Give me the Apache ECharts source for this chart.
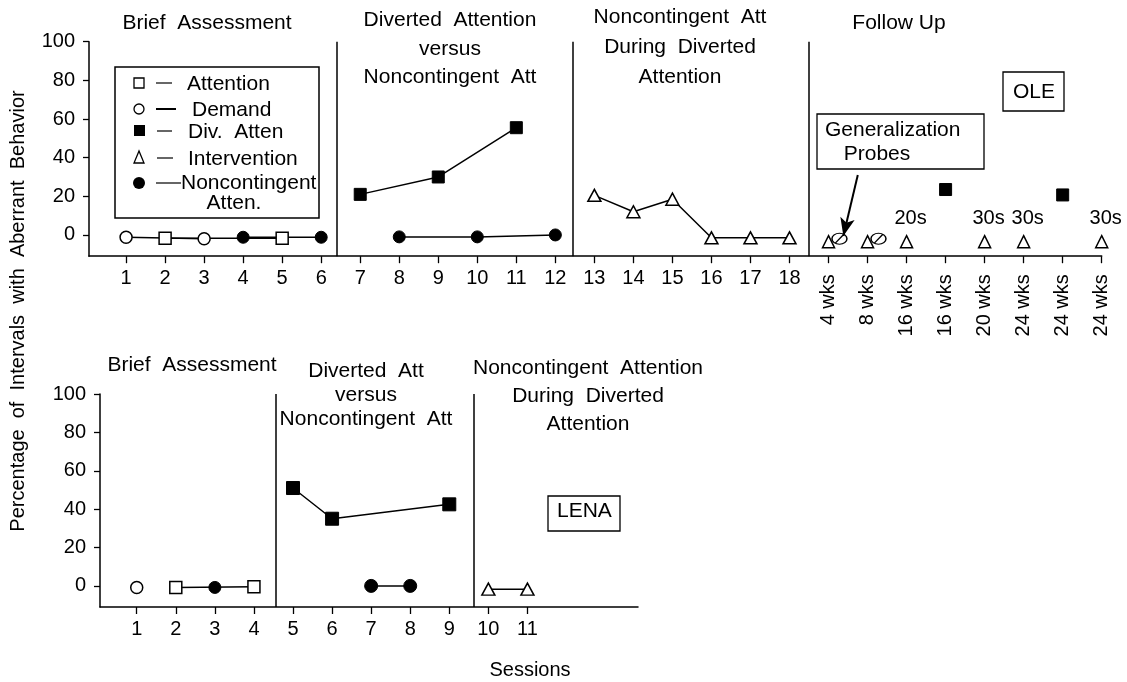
<!DOCTYPE html>
<html>
<head>
<meta charset="utf-8">
<script src="https://cdn.jsdelivr.net/npm/echarts@6.0.0/dist/echarts.min.js"></script>
<style>
  html, body { margin: 0; padding: 0; background: #fff; }
  #main { width: 1127px; height: 682px; }
</style>
</head>
<body>
<div id="main"></div>
<script>
// ---- data ----
var yTicks = [0, 20, 40, 60, 80, 100];

// OLE (top panel): sessions 1-18, then 8 follow-up probes at positions 19-26
var oleSessionTicks = [1, 2, 3, 4, 5, 6, 7, 8, 9, 10, 11, 12, 13, 14, 15, 16, 17, 18];
var oleFollowPos = [19, 20, 21, 22, 23, 24, 25, 26];
var oleFollowLabels = ['4 wks', '8 wks', '16 wks', '16 wks', '20 wks', '24 wks', '24 wks', '24 wks'];
var olePhaseLines = [6.4, 12.45, 18.5];

var oleDemandX = [1, 3];
var oleDemandY = [-1.2, -2];
var oleAttentionX = [2, 5];
var oleAttentionY = [-1.7, -1.7];
var oleNcaBriefX = [4, 6];
var oleNcaBriefY = [-1.2, -1.2];
var oleDivX = [7, 9, 11];
var oleDivY = [21, 30, 55.5];
var oleNcaX = [8, 10, 12];
var oleNcaY = [-1, -1, 0];
var oleInterX = [13, 14, 15, 16, 17, 18];
var oleInterY = [20.5, 12, 18.5, -1.5, -1.5, -1.5];
var oleFollowInterX = [19, 20, 21, 23, 24, 26];
var oleFollowInterY = [-3.5, -3.5, -3.5, -3.5, -3.5, -3.5];
var oleFollowInterLabels = ['', '', '20s', '30s', '30s', '30s'];
var oleFollowDivX = [22, 25];
var oleFollowDivY = [23.5, 20.7];
var oleProbeX = [19.28, 20.28];
var oleProbeY = [-2, -2];

// LENA (bottom panel)
var lenaSessionTicks = [1, 2, 3, 4, 5, 6, 7, 8, 9, 10, 11];
var lenaPhaseLines = [4.56, 9.62];
var lenaDemandX = [1];
var lenaDemandY = [-0.8];
var lenaAttentionX = [2, 4];
var lenaAttentionY = [-0.8, -0.5];
var lenaNcaBriefX = [3];
var lenaNcaBriefY = [-0.8];
var lenaDivX = [5, 6, 9];
var lenaDivY = [51, 35, 42.5];
var lenaNcaX = [7, 8];
var lenaNcaY = [0, 0];
var lenaInterX = [10, 11];
var lenaInterY = [-1.7, -1.7];

var legendNames = ['Attention', 'Demand', 'Div.  Atten', 'Intervention', 'Noncontingent\nAtten.'];

function zip(xs, ys) {
    return xs.map(function (x, i) { return [x, ys[i]]; });
}

var FONT = '"Liberation Sans", Arial, Helvetica, sans-serif';
var NARROW = '"Liberation Sans Narrow", "Arial Narrow", "Liberation Sans", sans-serif';

var chartDom = document.getElementById('main');
var myChart = echarts.init(chartDom);
var option;

function xAxisBase(grid, min, max) {
    return {
        type: 'value', gridIndex: grid, min: min, max: max, position: 'bottom',
        axisLine: { show: true, onZero: false, lineStyle: { color: '#000', width: 1.5 } },
        splitLine: { show: false }
    };
}

function yAxisBase(grid) {
    return {
        type: 'value', gridIndex: grid, min: -11, max: 100,
        axisLine: { show: true, onZero: false, lineStyle: { color: '#000', width: 1.5 } },
        axisTick: { show: true, customValues: yTicks, length: 6, lineStyle: { color: '#000', width: 1.3 } },
        axisLabel: { customValues: yTicks, color: '#000', fontSize: 20, fontFamily: FONT, margin: 14 },
        splitLine: { show: false }
    };
}

var topX = xAxisBase(0, 0.05, 26);
topX.axisTick = { show: true, customValues: oleSessionTicks.concat(oleFollowPos), length: 7, lineStyle: { color: '#000', width: 1.3 } };
topX.axisLabel = { customValues: oleSessionTicks, color: '#000', fontSize: 20, fontFamily: FONT, margin: 12, formatter: function (v) { return String(v); } };

var topXWeeks = xAxisBase(0, 0.05, 26);
topXWeeks.axisLine = { show: false, onZero: false };
topXWeeks.axisTick = { show: false };
topXWeeks.axisLabel = {
    customValues: oleFollowPos, rotate: 90, color: '#000', fontSize: 20, fontFamily: FONT, margin: 18,
    formatter: function (v) { return oleFollowLabels[oleFollowPos.indexOf(v)]; }
};

var botX = xAxisBase(1, 0.06, 13.83);
botX.axisTick = { show: true, customValues: lenaSessionTicks, length: 7, lineStyle: { color: '#000', width: 1.3 } };
botX.axisLabel = { customValues: lenaSessionTicks, color: '#000', fontSize: 20, fontFamily: FONT, margin: 12, formatter: function (v) { return String(v); } };

var hollow = { color: '#fff', borderColor: '#000', borderWidth: 1.5, opacity: 1 };
var filled = { color: '#000', borderColor: '#000', borderWidth: 1, opacity: 1 };
var blackLine = { color: '#000', width: 1.5 };

function lineSeries(name, xi, yi, data, symbol, size, style) {
    return {
        name: name, type: 'line', xAxisIndex: xi, yAxisIndex: yi, data: data,
        symbol: symbol, symbolSize: size, showSymbol: true,
        itemStyle: style, lineStyle: blackLine, z: 3
    };
}

function phaseMarks(values) {
    return {
        silent: true, symbol: 'none', label: { show: false },
        lineStyle: { color: '#000', width: 1.5, type: 'solid' },
        data: values.map(function (v) { return { xAxis: v }; })
    };
}

var oleDemand = lineSeries('Demand', 0, 0, zip(oleDemandX, oleDemandY), 'circle', 12, hollow);
oleDemand.markLine = phaseMarks(olePhaseLines);

var lenaDemand = lineSeries('Demand', 2, 1, zip(lenaDemandX, lenaDemandY), 'circle', 12, hollow);
lenaDemand.markLine = phaseMarks(lenaPhaseLines);

var probeSymbol = 'path://M0,5 A7,5 0 1,1 14,5 A7,5 0 1,1 0,5 Z M3,9 L11,1';

option = {
    animation: false,
    backgroundColor: '#fff',
    grid: [
        { left: 89, top: 41.7, width: 1012.7, height: 214.5, outerBoundsMode: 'none', containLabel: false },
        { left: 100, top: 394, width: 538, height: 213, outerBoundsMode: 'none', containLabel: false }
    ],
    xAxis: [topX, topXWeeks, botX],
    yAxis: [yAxisBase(0), yAxisBase(1)],
    series: [
        oleDemand,
        lineSeries('Attention', 0, 0, zip(oleAttentionX, oleAttentionY), 'rect', 12, hollow),
        lineSeries('Noncontingent Atten.', 0, 0, zip(oleNcaBriefX, oleNcaBriefY), 'circle', 12, filled),
        lineSeries('Div. Atten', 0, 0, zip(oleDivX, oleDivY), 'rect', 12, filled),
        lineSeries('Noncontingent Atten.', 0, 0, zip(oleNcaX, oleNcaY), 'circle', 12, filled),
        lineSeries('Intervention', 0, 0, zip(oleInterX, oleInterY), 'triangle', [13, 12], hollow),
        {
            name: 'Intervention', type: 'scatter', xAxisIndex: 0, yAxisIndex: 0,
            data: zip(oleFollowInterX, oleFollowInterY), symbol: 'triangle', symbolSize: [12, 12],
            itemStyle: hollow, z: 3,
            label: {
                show: true, position: 'top', distance: 6, offset: [4, 0], color: '#000', fontSize: 20, fontFamily: FONT,
                formatter: function (p) { return oleFollowInterLabels[p.dataIndex]; }
            }
        },
        {
            name: 'Div. Atten', type: 'scatter', xAxisIndex: 0, yAxisIndex: 0,
            data: zip(oleFollowDivX, oleFollowDivY), symbol: 'rect', symbolSize: 12, itemStyle: filled, z: 3
        },
        {
            name: 'Generalization Probes', type: 'scatter', xAxisIndex: 0, yAxisIndex: 0,
            data: zip(oleProbeX, oleProbeY), symbol: probeSymbol, symbolSize: [15, 11],
            itemStyle: { color: '#fff', borderColor: '#000', borderWidth: 1.3, opacity: 1 }, z: 4,
            markLine: {
                silent: true, symbol: ['none', 'arrow'], symbolSize: [11, 18], label: { show: false },
                lineStyle: { color: '#000', width: 2, type: 'solid' },
                data: [[{ coord: [19.75, 31] }, { coord: [19.38, -0.5] }]]
            }
        },

        lenaDemand,
        lineSeries('Attention', 2, 1, zip(lenaAttentionX, lenaAttentionY), 'rect', 12, hollow),
        lineSeries('Noncontingent Atten.', 2, 1, zip(lenaNcaBriefX, lenaNcaBriefY), 'circle', 12, filled),
        lineSeries('Div. Atten', 2, 1, zip(lenaDivX, lenaDivY), 'rect', 13, filled),
        lineSeries('Noncontingent Atten.', 2, 1, zip(lenaNcaX, lenaNcaY), 'circle', 13, filled),
        lineSeries('Intervention', 2, 1, zip(lenaInterX, lenaInterY), 'triangle', [13, 12], hollow)
    ],
    graphic: []
};

// text annotations
function txt(text, x, y, opts) {
    opts = opts || {};
    return {
        type: 'text', x: x, y: y, rotation: opts.rotation || 0, z: 10,
        style: {
            text: text, fill: '#000', fontSize: opts.size || 21, fontFamily: opts.font || FONT,
            align: opts.align || 'center', verticalAlign: 'middle', lineHeight: opts.lh || 28
        }
    };
}

var g = option.graphic;
g.push(txt('Brief  Assessment', 207, 23));
g.push(txt('Diverted  Attention\nversus\nNoncontingent  Att', 450, 49, { lh: 28.5 }));
g.push(txt('Noncontingent  Att\nDuring  Diverted\nAttention', 680, 47, { lh: 30 }));
g.push(txt('Follow Up', 899, 23));
g.push(txt('Brief  Assessment', 192, 365));
g.push(txt('Diverted  Att\nversus\nNoncontingent  Att', 366, 395, { lh: 24 }));
g.push(txt('Noncontingent  Attention\nDuring  Diverted\nAttention', 588, 396, { lh: 28 }));
g.push(txt('Percentage  of  Intervals  with  Aberrant  Behavior', 18, 311, { rotation: Math.PI / 2, size: 20 }));
g.push(txt('Sessions', 530, 670, { size: 20 }));

// boxes
g.push({ type: 'rect', shape: { x: 817, y: 114, width: 167, height: 55 }, style: { fill: '#fff', stroke: '#000', lineWidth: 1.3 }, z: 5 });
g.push(txt('Generalization', 825, 130, { align: 'left' }));
g.push(txt('Probes', 877, 154));
g.push({ type: 'rect', shape: { x: 1003, y: 72, width: 61, height: 39 }, style: { fill: '#fff', stroke: '#000', lineWidth: 1.3 }, z: 5 });
g.push(txt('OLE', 1013, 92, { align: 'left', font: NARROW }));
g.push({ type: 'rect', shape: { x: 548, y: 496, width: 72, height: 35 }, style: { fill: '#fff', stroke: '#000', lineWidth: 1.3 }, z: 5 });
g.push(txt('LENA', 557, 511, { align: 'left', font: NARROW }));

// legend box
var lgX = 115, lgY = 67;
g.push({ type: 'rect', shape: { x: lgX, y: lgY, width: 204, height: 151 }, style: { fill: '#fff', stroke: '#000', lineWidth: 1.5 }, z: 5 });
var rowY = [83, 109, 131, 158, 183];
var symX = 139;
g.push({ type: 'rect', shape: { x: symX - 5, y: rowY[0] - 5, width: 10, height: 10 }, style: { fill: '#fff', stroke: '#000', lineWidth: 1.3 }, z: 6 });
g.push({ type: 'circle', shape: { cx: symX, cy: rowY[1], r: 5 }, style: { fill: '#fff', stroke: '#000', lineWidth: 1.3 }, z: 6 });
g.push({ type: 'rect', shape: { x: symX - 5, y: rowY[2] - 6, width: 11, height: 11 }, style: { fill: '#000' }, z: 6 });
g.push({ type: 'polygon', shape: { points: [[symX, rowY[3] - 7], [symX - 5, rowY[3] + 5], [symX + 5, rowY[3] + 5]] }, style: { fill: '#fff', stroke: '#000', lineWidth: 1.3 }, z: 6 });
g.push({ type: 'circle', shape: { cx: symX, cy: rowY[4], r: 6 }, style: { fill: '#000' }, z: 6 });
var dashes = [[156, 172], [156, 176], [157, 172], [157, 173], [156, 181]];
var textX = [187, 192, 188, 188, 181];
for (var i = 0; i < legendNames.length; i++) {
    g.push({ type: 'line', shape: { x1: dashes[i][0], y1: rowY[i], x2: dashes[i][1], y2: rowY[i] }, style: { stroke: '#000', lineWidth: i === 1 ? 2 : 1.2 }, z: 6 });
    if (i === 4) {
        g.push(txt('Noncontingent', textX[i], rowY[i], { align: 'left' }));
        g.push(txt('Atten.', 234, rowY[i] + 20));
    } else {
        g.push(txt(legendNames[i], textX[i], rowY[i] + 1, { align: 'left' }));
    }
}

option && myChart.setOption(option);
</script>
</body>
</html>
